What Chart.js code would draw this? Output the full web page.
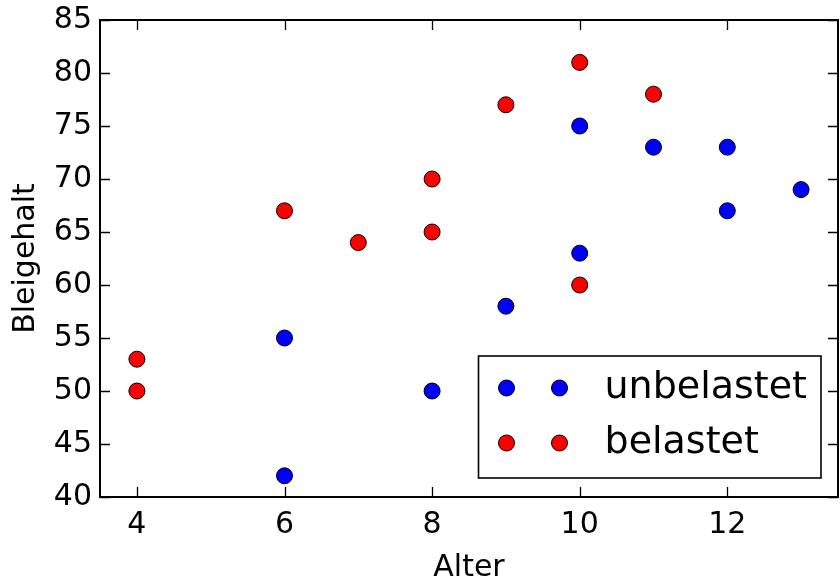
<!DOCTYPE html>
<html>
<head>
<meta charset="utf-8">
<script src="https://cdn.jsdelivr.net/npm/chart.js@4/dist/chart.umd.min.js"></script>
<style>
body{margin:0;background:#fff}
canvas{display:block}
</style>
</head>
<body>
<canvas id="chart" width="840" height="580"></canvas>
<script>
// Bleigehalt nach Alter
const unbelastetAlter=[6,6,8,9,10,10,11,12,12,13]
const unbelastetBlei=[42,55,50,58,63,75,73,73,67,69]
const belastetAlter=[4,4,6,7,8,8,9,10,10,11]
const belastetBlei=[50,53,67,64,65,70,77,81,60,78]

const xTicks=[4,6,8,10,12]
const yTicks=[40,45,50,55,60,65,70,75,80,85]

const FONT='"DejaVu Sans", sans-serif'

function toPoints(xs,ys){
  return xs.map((x,i)=>({x:x,y:ys[i]}))
}

function noPad(s){
  s.paddingTop=0
  s.paddingBottom=0
  s.paddingLeft=0
  s.paddingRight=0
}

// inward ticks on all four sides + box
const frame={
  id:'frame',
  beforeDatasetsDraw(chart){
    const ctx=chart.ctx
    const a=chart.chartArea
    const xs=chart.scales.x
    const ys=chart.scales.y
    const len=10
    ctx.save()
    ctx.strokeStyle='#000'
    ctx.lineWidth=1.3
    ctx.beginPath()
    xTicks.forEach(v=>{
      const px=Math.round(xs.getPixelForValue(v))+0.5
      ctx.moveTo(px,a.bottom);ctx.lineTo(px,a.bottom-len)
      ctx.moveTo(px,a.top);ctx.lineTo(px,a.top+len)
    })
    yTicks.forEach(v=>{
      const py=Math.round(ys.getPixelForValue(v))+0.5
      ctx.moveTo(a.left,py);ctx.lineTo(a.left+len,py)
      ctx.moveTo(a.right,py);ctx.lineTo(a.right-len,py)
    })
    ctx.stroke()
    ctx.lineWidth=2
    ctx.strokeRect(a.left,a.top,a.right-a.left,a.bottom-a.top)
    ctx.restore()
  },
  afterDraw(chart){
    // legend with two markers per entry
    const ctx=chart.ctx
    const a=chart.chartArea
    const sets=chart.data.datasets
    ctx.save()
    ctx.font='38px '+FONT
    let tw=0
    sets.forEach(d=>{tw=Math.max(tw,ctx.measureText(d.label).width)})
    const w=126+tw+14
    const h=122
    const bx=a.right-17-w
    const by=a.bottom-19-h
    ctx.fillStyle='#fff'
    ctx.fillRect(bx,by,w,h)
    ctx.strokeStyle='#000'
    ctx.lineWidth=1.6
    ctx.strokeRect(bx,by,w,h)
    sets.forEach((d,i)=>{
      const ry=by+32+i*55
      ;[28,81].forEach(dx=>{
        ctx.beginPath()
        ctx.arc(bx+dx,ry,8,0,Math.PI*2)
        ctx.fillStyle=d.backgroundColor
        ctx.fill()
        ctx.lineWidth=1
        ctx.strokeStyle='#000'
        ctx.stroke()
      })
      ctx.fillStyle='#000'
      ctx.textBaseline='middle'
      ctx.textAlign='left'
      ctx.fillText(d.label,bx+126,ry)
    })
    ctx.restore()
  }
}

new Chart(document.getElementById('chart'),{
  type:'scatter',
  data:{
    datasets:[
      {
        label:'unbelastet',
        data:toPoints(unbelastetAlter,unbelastetBlei),
        backgroundColor:'#0000ff',
        borderColor:'#000',
        borderWidth:1,
        pointRadius:8,
        pointHoverRadius:8
      },
      {
        label:'belastet',
        data:toPoints(belastetAlter,belastetBlei),
        backgroundColor:'#ff0000',
        borderColor:'#000',
        borderWidth:1,
        pointRadius:8,
        pointHoverRadius:8
      }
    ]
  },
  options:{
    responsive:false,
    animation:false,
    layout:{autoPadding:false,padding:{top:20,right:2,left:0,bottom:0}},
    plugins:{legend:{display:false},tooltip:{enabled:false}},
    scales:{
      x:{
        type:'linear',
        min:3.5,
        max:13.5,
        afterBuildTicks:s=>{s.ticks=xTicks.map(v=>({value:v}))},
        afterFit:s=>{s.height=83;noPad(s)},
        grid:{display:false,drawTicks:false},
        border:{display:false},
        ticks:{color:'#000',padding:10,font:{family:FONT,size:30}},
        title:{display:true,text:'Alter',color:'#000',padding:{top:0,bottom:-3},font:{family:FONT,size:30,lineHeight:1}}
      },
      y:{
        type:'linear',
        min:40,
        max:85,
        afterBuildTicks:s=>{s.ticks=yTicks.map(v=>({value:v}))},
        afterFit:s=>{s.width=100;noPad(s)},
        grid:{display:false,drawTicks:false},
        border:{display:false},
        ticks:{color:'#000',padding:8,font:{family:FONT,size:30}},
        title:{display:true,text:'Bleigehalt',color:'#000',padding:{top:11,bottom:0},font:{family:FONT,size:30,lineHeight:1}}
      }
    }
  },
  plugins:[frame]
})
</script>
</body>
</html>
